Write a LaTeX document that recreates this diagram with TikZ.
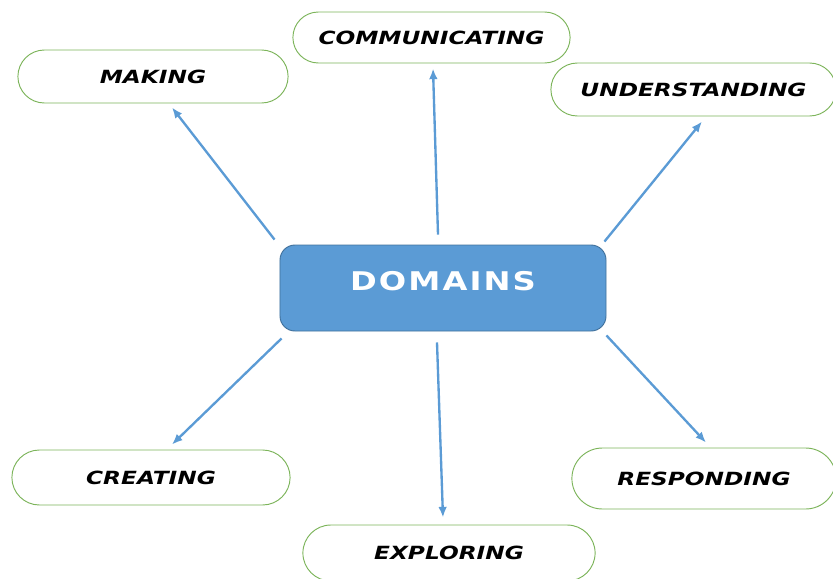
\documentclass[tikz,border=0pt]{standalone}
\usepackage{fontspec}
\usepackage{tikz}
\usetikzlibrary{arrows.meta, shapes.misc}
\newfontfamily\areafont[FakeStretch=1.28]{DejaVu Sans}
\newfontfamily\hubfont[FakeStretch=1.25,LetterSpace=8]{DejaVu Sans}
\definecolor{colorHub}{HTML}{5B9BD5}
\definecolor{colorHubEdge}{HTML}{41719C}
\definecolor{colorArea}{HTML}{7CB45A}
\begin{document}
\begin{tikzpicture}[x=0.03cm,y=-0.03cm,
    area/.style={rounded rectangle,draw=colorArea,line width=0.8pt,fill=white,
        font=\areafont\bfseries\itshape\fontsize{15.5}{18}\selectfont,text=black},
    hub/.style={draw=colorHubEdge,line width=0.8pt,fill=colorHub,rounded corners=0.45cm,
        minimum width=9.78cm,minimum height=2.58cm,text depth=0.4cm,
        font=\hubfont\bfseries\fontsize{22}{26}\selectfont,text=white},
    link/.style={draw=colorHub,line width=2pt,-{Latex[length=3.2mm,width=2.6mm]}}]
        \useasboundingbox (0,0) rectangle (833,578);
        \node[hub] (domains) at (443,288) {DOMAINS};
        \node[area,minimum width=8.34cm,minimum height=1.59cm] (making) at (153,76.5) {MAKING};
        \node[area,minimum width=8.55cm,minimum height=1.53cm] (comm) at (431.5,37.5) {COMMUNICATING};
        \node[area,minimum width=8.79cm,minimum height=1.59cm] (under) at (693.5,89.5) {UNDERSTANDING};
        \node[area,minimum width=8.58cm,minimum height=1.65cm] (creating) at (151,477.5) {CREATING};
        \node[area,minimum width=9cm,minimum height=1.68cm] (explore) at (449,553) {EXPLORING};
        \node[area,minimum width=8.16cm,minimum height=1.83cm] (respond) at (704,478.5) {RESPONDING};
        \draw[link] ([shift={(-5,-5)}]domains.north west) -- ([shift={(19,4)}]making.south);
        \draw[link] ([shift={(-5,-10)}]domains.north) -- ([shift={(1.5,5)}]comm.south);
        \draw[link] ([shift={(-2,-3)}]domains.north east) -- ([shift={(8.5,5)}]under.south);
        \draw[link] ([shift={(2,7)}]domains.south west) -- ([shift={(21,-5)}]creating.north);
        \draw[link] ([shift={(-6,11)}]domains.south) -- ([shift={(-6,-7)}]explore.north);
        \draw[link] ([shift={(0,4)}]domains.south east) -- ([shift={(2,-5)}]respond.north);
    \end{tikzpicture}
\end{document}
